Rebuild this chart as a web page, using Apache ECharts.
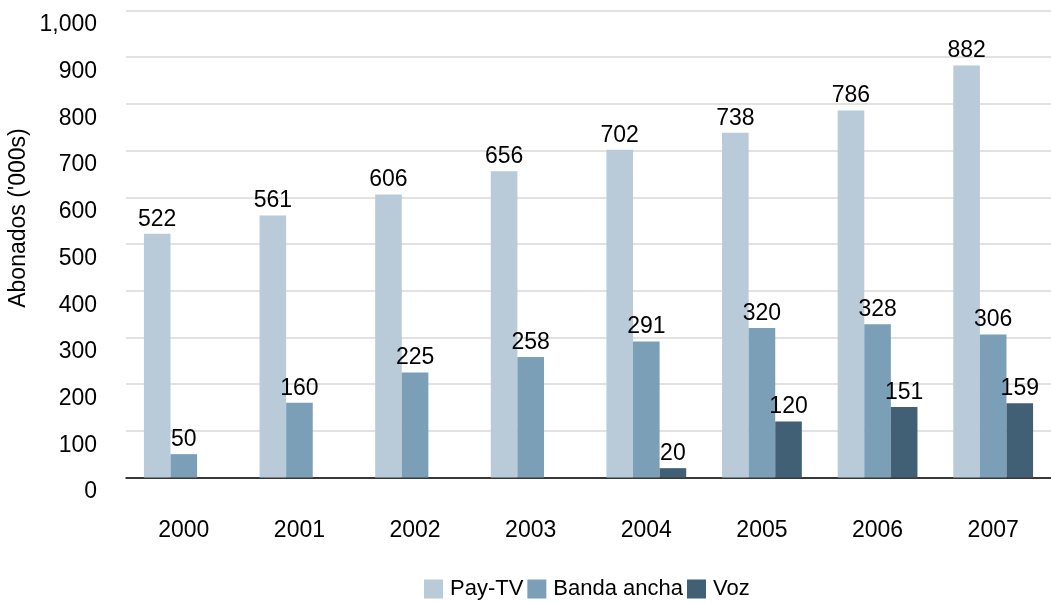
<!DOCTYPE html>
<html>
<head>
<meta charset="utf-8">
<script src="https://cdn.jsdelivr.net/npm/echarts@6/dist/echarts.min.js"></script>
<style>
  html, body { margin: 0; padding: 0; background: #ffffff; }
  #chart { width: 1051px; height: 603px; }
</style>
</head>
<body>
<div id="chart"></div>
<script>
// Subscriber counts per year, in thousands
const years = ['2000', '2001', '2002', '2003', '2004', '2005', '2006', '2007'];
const payTv = [522, 561, 606, 656, 702, 738, 786, 882];
const bandaAncha = [50, 160, 225, 258, 291, 320, 328, 306];
const voz = [null, null, null, null, 20, 120, 151, 159];
const seriesNames = ['Pay-TV', 'Banda ancha', 'Voz'];
const yTitle = "Abonados ('000s)";

const FONT = '"Liberation Sans", Arial, sans-serif';
const colors = ['#b9cad8', '#7b9fb7', '#416075'];

const chart = echarts.init(document.getElementById('chart'));

function barSeries(name, data, color) {
  return {
    name: name,
    type: 'bar',
    data: data,
    barGap: '0%',
    barCategoryGap: '31%',
    itemStyle: { color: color },
    label: {
      show: true,
      position: 'top',
      distance: 3,
      color: '#000',
      fontFamily: FONT,
      fontSize: 23
    }
  };
}

chart.setOption({
  animation: false,
  backgroundColor: '#ffffff',
  grid: { left: 126, top: 10.5, width: 932, height: 467 },
  xAxis: {
    type: 'category',
    data: years,
    axisTick: { show: false },
    axisLine: { lineStyle: { color: '#000', width: 1.5 } },
    axisLabel: { color: '#000', fontFamily: FONT, fontSize: 23, margin: 42 }
  },
  yAxis: {
    type: 'value',
    min: 0,
    max: 1000,
    interval: 100,
    axisLine: { show: false },
    axisTick: { show: false },
    splitLine: { lineStyle: { color: '#d9d9d9', width: 1.5 } },
    axisLabel: {
      color: '#000',
      fontFamily: FONT,
      fontSize: 23,
      margin: 29,
      verticalAlign: 'top',
      padding: [3, 0, 0, 0],
      formatter: function (v) { return v.toLocaleString('en-US'); }
    }
  },
  legend: {
    data: seriesNames,
    left: 419,
    top: 573,
    itemWidth: 19,
    itemHeight: 19,
    itemGap: 4,
    icon: 'rect',
    textStyle: { color: '#000', fontFamily: FONT, fontSize: 22, padding: [0, 0, 0, 2] }
  },
  graphic: [{
    type: 'text',
    x: 19,
    y: 218,
    rotation: Math.PI / 2,
    style: {
      text: yTitle,
      fill: '#000',
      font: '23px ' + FONT,
      align: 'center',
      verticalAlign: 'middle'
    }
  }],
  series: [
    barSeries(seriesNames[0], payTv, colors[0]),
    barSeries(seriesNames[1], bandaAncha, colors[1]),
    barSeries(seriesNames[2], voz, colors[2])
  ]
});
</script>
</body>
</html>
